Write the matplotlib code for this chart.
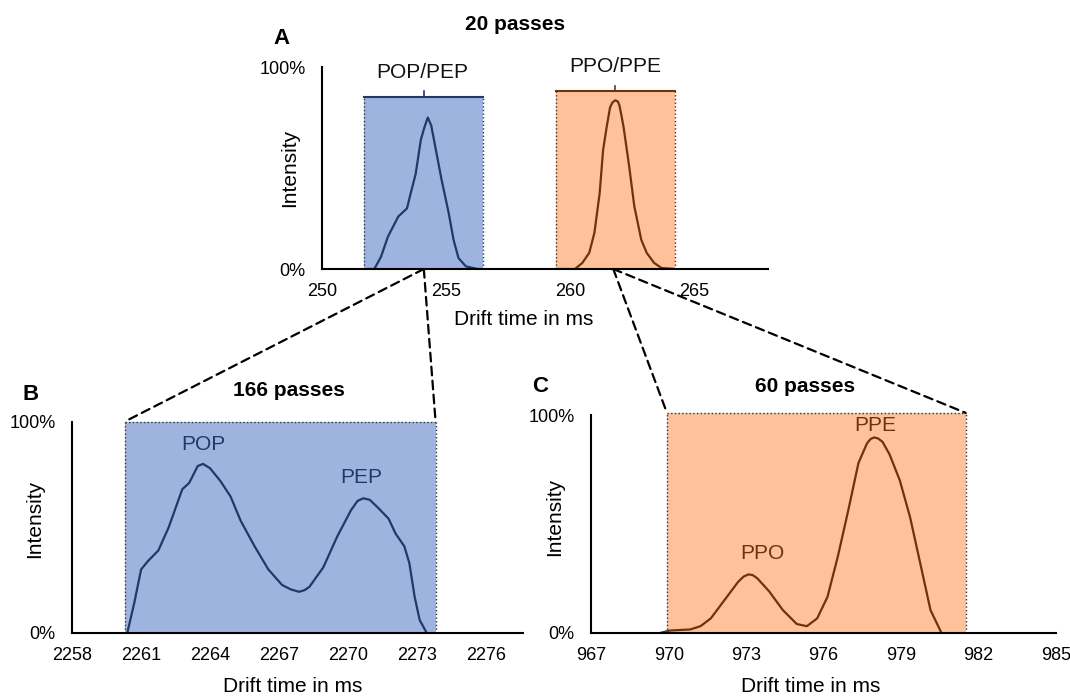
import matplotlib.pyplot as plt
from matplotlib.patches import ConnectionPatch

plt.rcParams['font.family'] = ['Liberation Sans', 'DejaVu Sans']

# panel A: 20 passes
a_pop_x = [251.69, 252.1, 252.37, 252.65, 253.07, 253.42, 253.56, 253.77, 253.98, 254.12,
           254.26, 254.4, 254.54, 254.82, 255.1, 255.3, 255.5, 255.8, 256.28, 256.49]
a_pop_y = [0, 0, 0.06, 0.16, 0.26, 0.30, 0.37, 0.47, 0.64, 0.70,
           0.75, 0.71, 0.62, 0.44, 0.28, 0.145, 0.054, 0.013, 0, 0]
a_ppo_x = [259.43, 260.2, 260.5, 260.78, 260.99, 261.2, 261.34, 261.48, 261.62, 261.72,
           261.83, 261.93, 262.0, 262.08, 262.17, 262.39, 262.6, 262.88, 263.1, 263.4,
           263.7, 264.23]
a_ppo_y = [0, 0, 0.03, 0.08, 0.18, 0.375, 0.59, 0.70, 0.80, 0.825,
           0.835, 0.83, 0.81, 0.76, 0.70, 0.51, 0.31, 0.145, 0.08, 0.03,
           0.005, 0]
a_box_blue = (251.69, 256.49, 0.852)
a_box_orange = (259.43, 264.23, 0.88)
a_ticks = [250, 255, 260, 265]

# panel B: 166 passes
b_x = [2260.39, 2260.69, 2260.99, 2261.29, 2261.74, 2262.19, 2262.78, 2263.08, 2263.45, 2263.68,
       2263.98, 2264.43, 2264.88, 2265.32, 2265.92, 2266.52, 2267.12, 2267.5, 2267.86, 2268.1,
       2268.31, 2268.91, 2269.51, 2270.11, 2270.4, 2270.65, 2270.93, 2271.31, 2271.75, 2272.05,
       2272.43, 2272.65, 2272.88, 2273.1, 2273.4]
b_y = [0, 0.14, 0.30, 0.34, 0.39, 0.50, 0.68, 0.71, 0.79, 0.80,
       0.78, 0.72, 0.645, 0.53, 0.41, 0.30, 0.226, 0.205, 0.194, 0.202,
       0.218, 0.31, 0.455, 0.58, 0.625, 0.637, 0.63, 0.59, 0.54, 0.47,
       0.41, 0.33, 0.17, 0.06, 0]
b_box = (2260.27, 2273.79, 1.0)
b_ticks = [2258, 2261, 2264, 2267, 2270, 2273, 2276]

# panel C: 60 passes
c_x = [969.70, 970.03, 970.83, 971.23, 971.63, 972.16, 972.69, 972.9, 973.09, 973.25,
       973.43, 973.89, 974.42, 974.96, 975.35, 975.75, 976.15, 976.55, 976.95, 977.35,
       977.68, 977.82, 977.95, 978.1, 978.28, 978.55, 978.95, 979.35, 979.74, 980.14,
       980.54]
c_y = [0, 0.01, 0.015, 0.03, 0.066, 0.15, 0.234, 0.258, 0.268, 0.265,
       0.25, 0.19, 0.104, 0.04, 0.03, 0.066, 0.165, 0.35, 0.56, 0.78,
       0.87, 0.89, 0.897, 0.893, 0.877, 0.82, 0.70, 0.53, 0.32, 0.104,
       0.005]
c_box = (969.93, 981.5, 1.01)
c_ticks = [967, 970, 973, 976, 979, 982, 985]

BLUE_FILL = '#9eb4df'
BLUE_LINE = '#1f3a66'
ORANGE_FILL = '#ffc19a'
ORANGE_LINE = '#6b3410'
FS = 15
TFS = 13

fig = plt.figure(figsize=(10.7, 6.96), dpi=100)
axA = fig.add_axes([0.3012, 0.6135, 0.4166, 0.2902])
axB = fig.add_axes([0.0676, 0.0909, 0.4214, 0.3032])
axC = fig.add_axes([0.5526, 0.0909, 0.4343, 0.3128])


def style(ax, xlim, ticks):
    ax.set_xlim(*xlim)
    ax.set_ylim(0, 1)
    ax.set_xticks(ticks)
    ax.set_yticks([0, 1])
    ax.set_yticklabels(['0%', '100%'])
    for s in ['top', 'right']:
        ax.spines[s].set_visible(False)
    for s in ['left', 'bottom']:
        ax.spines[s].set_linewidth(1.5)
        ax.spines[s].set_zorder(5)
    ax.tick_params(axis='x', length=0, pad=10, labelsize=TFS)
    ax.tick_params(axis='y', length=0, pad=12, labelsize=TFS)
    ax.patch.set_alpha(0)


def box(ax, b, fill, edge, solid_top=False):
    x0, x1, top = b
    ax.fill_between([x0, x1], 0, top, color=fill, lw=0, zorder=1, clip_on=False)
    ax.plot([x0, x0], [0, top], ls=':', color='#333333', lw=1, zorder=2, clip_on=False)
    ax.plot([x1, x1], [0, top], ls=':', color='#333333', lw=1, zorder=2, clip_on=False)
    if solid_top:
        ax.plot([x0, x1], [top, top], color=edge, lw=1.5, zorder=2, clip_on=False)
        mid = (x0 + x1) / 2
        ax.plot([mid, mid], [top, top + 0.027], color=edge, lw=1.2, zorder=2, clip_on=False)
    else:
        ax.plot([x0, x1], [top, top], ls=':', color='#333333', lw=1, zorder=2, clip_on=False)


# A
style(axA, (250, 268), a_ticks)
box(axA, a_box_blue, BLUE_FILL, BLUE_LINE, solid_top=True)
box(axA, a_box_orange, ORANGE_FILL, ORANGE_LINE, solid_top=True)
axA.plot(a_pop_x, a_pop_y, color=BLUE_LINE, lw=1.6, zorder=3)
axA.plot(a_ppo_x, a_ppo_y, color=ORANGE_LINE, lw=1.6, zorder=3)
axA.text(254.05, 0.975, 'POP/PEP', ha='center', va='center', fontsize=FS, color='#111111')
axA.text(261.85, 1.005, 'PPO/PPE', ha='center', va='center', fontsize=FS, color='#111111')
axA.text(-0.073, 0.5, 'Intensity', transform=axA.transAxes, rotation=90,
         ha='center', va='center', fontsize=FS)
axA.text(0.452, -0.25, 'Drift time in ms', transform=axA.transAxes,
         ha='center', va='center', fontsize=FS)

# B
style(axB, (2258, 2277.6), b_ticks)
box(axB, b_box, BLUE_FILL, BLUE_LINE)
axB.plot(b_x, b_y, color=BLUE_LINE, lw=1.6, zorder=3)
axB.text(2263.7, 0.89, 'POP', ha='center', va='center', fontsize=FS, color=BLUE_LINE)
axB.text(2270.56, 0.736, 'PEP', ha='center', va='center', fontsize=FS, color=BLUE_LINE)
axB.text(-0.084, 0.54, 'Intensity', transform=axB.transAxes, rotation=90,
         ha='center', va='center', fontsize=FS)
axB.text(0.488, -0.255, 'Drift time in ms', transform=axB.transAxes,
         ha='center', va='center', fontsize=FS)

# C
style(axC, (967, 985), c_ticks)
box(axC, c_box, ORANGE_FILL, ORANGE_LINE)
axC.plot(c_x, c_y, color=ORANGE_LINE, lw=1.6, zorder=3)
axC.text(973.63, 0.364, 'PPO', ha='center', va='center', fontsize=FS, color=ORANGE_LINE)
axC.text(978.0, 0.954, 'PPE', ha='center', va='center', fontsize=FS, color=ORANGE_LINE)
axC.text(-0.078, 0.53, 'Intensity', transform=axC.transAxes, rotation=90,
         ha='center', va='center', fontsize=FS)
axC.text(0.472, -0.245, 'Drift time in ms', transform=axC.transAxes,
         ha='center', va='center', fontsize=FS)

# titles and panel letters
fig.text(515 / 1070, 1 - 25 / 696, '20 passes', ha='center', va='center', fontsize=FS, weight='bold')
fig.text(288.5 / 1070, 1 - 391 / 696, '166 passes', ha='center', va='center', fontsize=FS, weight='bold')
fig.text(805 / 1070, 1 - 387 / 696, '60 passes', ha='center', va='center', fontsize=FS, weight='bold')
fig.text(281 / 1070, 1 - 38 / 696, 'A', ha='center', va='center', fontsize=16, weight='bold')
fig.text(31 / 1070, 1 - 394 / 696, 'B', ha='center', va='center', fontsize=16, weight='bold')
fig.text(540 / 1070, 1 - 386 / 696, 'C', ha='center', va='center', fontsize=16, weight='bold')

# dashed zoom connectors
for xa, axT, xb, yb in [(254.1, axB, b_box[0], b_box[2]), (254.1, axB, b_box[1], b_box[2]),
                        (261.75, axC, c_box[0], c_box[2]), (261.75, axC, c_box[1], c_box[2])]:
    con = ConnectionPatch(xyA=(xa, 0), coordsA=axA.transData, xyB=(xb, yb), coordsB=axT.transData,
                          ls=(0, (3.9, 2.4)), lw=1.6, color='black', zorder=10)
    fig.add_artist(con)

fig.savefig('out.png', dpi=100)
